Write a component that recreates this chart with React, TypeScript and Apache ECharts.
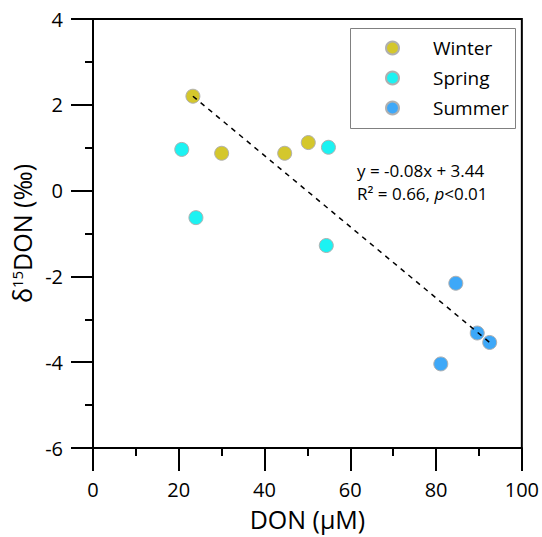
import React, { useEffect, useRef } from "react";
import * as echarts from "echarts";

const seriesNames = ["Winter", "Spring", "Summer"];
const winterX = [23.3, 30.0, 44.7, 50.2];
const winterY = [2.2, 0.87, 0.87, 1.12];
const springX = [20.7, 24.0, 54.9, 54.4];
const springY = [0.96, -0.63, 1.01, -1.28];
const summerX = [84.6, 89.6, 92.5, 81.1];
const summerY = [-2.16, -3.32, -3.54, -4.04];
const trendX = [23.3, 92.5];
const trendY = [2.2, -3.54];
const equationLines = ["y = -0.08x + 3.44", "R² = 0.66, "];

const colors = ["#d4c72c", "#1cf2f2", "#3ea8f8"];
const FONT = "Open Sans";

const zip = (xs: number[], ys: number[]) => xs.map((x, i) => [x, ys[i]]);

export default function App() {
  const ref = useRef<HTMLDivElement>(null);
  useEffect(() => {
    if (!ref.current) return;
    const chart = echarts.init(ref.current, null, { renderer: "svg" });
    const scatter = (name: string, data: number[][], color: string) => ({
      name,
      type: "scatter",
      data,
      symbol: "circle",
      symbolSize: 14,
      itemStyle: { color, borderColor: "#b0b0b0", borderWidth: 1, opacity: 1 },
      z: 3,
    });
    chart.setOption({
      animation: false,
      backgroundColor: "#fff",
      textStyle: { fontFamily: FONT },
      grid: {
        left: 93,
        right: 19,
        top: 19,
        bottom: 89,
        show: true,
        borderColor: "#000",
        borderWidth: 2,
      },
      legend: {
        data: seriesNames,
        orient: "vertical",
        left: 380,
        top: 33,
        itemWidth: 13,
        itemHeight: 13,
        itemGap: 10,
        textStyle: {
          fontSize: 19,
          color: "#000",
          fontFamily: FONT,
          lineHeight: 20,
          padding: [0, 0, 0, 29],
        },
      },
      xAxis: {
        type: "value",
        min: 0,
        max: 100,
        interval: 20,
        name: "DON (μM)",
        nameLocation: "middle",
        nameGap: 58,
        nameTextStyle: { fontSize: 25, color: "#000", fontFamily: FONT },
        axisLine: { show: true, onZero: false, lineStyle: { color: "#000", width: 2 } },
        axisTick: { show: true, inside: false, length: 23, lineStyle: { color: "#000", width: 2 } },
        minorTick: { show: true, splitNumber: 2, length: 8, lineStyle: { color: "#000", width: 2 } },
        axisLabel: { fontSize: 20, color: "#000", margin: 31, fontFamily: FONT },
        splitLine: { show: false },
      },
      yAxis: {
        type: "value",
        min: -6,
        max: 4,
        interval: 2,
        name: "δ{sup|15}DON (‰)",
        nameLocation: "middle",
        nameGap: 57,
        nameTextStyle: {
          fontSize: 25,
          color: "#000",
          fontFamily: FONT,
          rich: {
            sup: { fontSize: 15, verticalAlign: "top", padding: [0, 0, 10, 0], color: "#000", fontFamily: FONT },
          },
        },
        axisLine: { show: true, onZero: false, lineStyle: { color: "#000", width: 2 } },
        axisTick: { show: true, inside: false, length: 22, lineStyle: { color: "#000", width: 2 } },
        minorTick: { show: true, splitNumber: 2, length: 8, lineStyle: { color: "#000", width: 2 } },
        axisLabel: { fontSize: 20, color: "#000", margin: 30, fontFamily: FONT },
        splitLine: { show: false },
      },
      graphic: [
        {
          type: "rect",
          shape: { x: 350.5, y: 28.5, width: 165, height: 100 },
          style: { fill: "none", stroke: "#808080", lineWidth: 1 },
          z: 10,
        },
        {
          type: "text",
          left: 357,
          top: 162,
          style: {
            text: "{a|" + equationLines[0] + "}\n{a|" + equationLines[1] + "}{i|p}{a|<0.01}",
            rich: {
              a: { fontSize: 17, fontFamily: FONT, fill: "#000", lineHeight: 23 },
              i: { fontSize: 17, fontFamily: FONT, fontStyle: "italic", fill: "#000", lineHeight: 23 },
            },
          },
          z: 10,
        },
      ],
      series: [
        scatter(seriesNames[0], zip(winterX, winterY), colors[0]),
        scatter(seriesNames[1], zip(springX, springY), colors[1]),
        scatter(seriesNames[2], zip(summerX, summerY), colors[2]),
        {
          name: "trend",
          type: "line",
          data: zip(trendX, trendY),
          symbol: "none",
          lineStyle: { color: "#000", width: 1.5, type: [5, 5] },
          z: 4,
          silent: true,
        },
      ],
    });
    return () => chart.dispose();
  }, []);
  return (
    <div
      ref={ref}
      style={{ position: "fixed", left: 0, top: 0, width: 542, height: 537 }}
    />
  );
}
